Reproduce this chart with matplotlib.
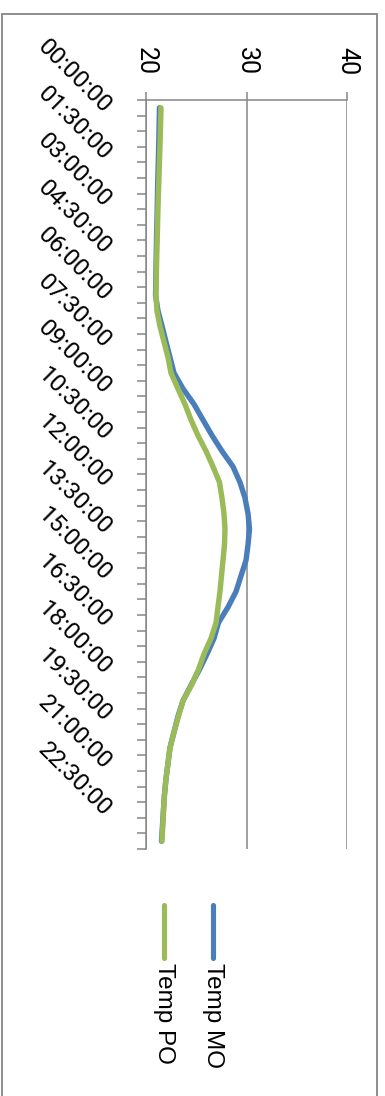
import numpy as np
import matplotlib.pyplot as plt
from matplotlib.lines import Line2D
from matplotlib.patches import Rectangle
from matplotlib.transforms import blended_transform_factory

# half-hourly readings, 00:00 .. 23:30
times = ['%02d:%02d:00' % (h, m) for h in range(24) for m in (0, 30)]

temp_mo = [21.34, 21.31, 21.28, 21.24, 21.20, 21.16, 21.13, 21.10, 21.06, 21.03,
           21.00, 20.98, 20.95, 21.19, 21.60, 21.99, 22.39, 22.79, 23.68, 24.78,
           25.67, 26.57, 27.56, 28.66, 29.35, 29.85, 30.15, 30.30, 30.15, 29.95,
           29.45, 28.96, 28.16, 27.21, 26.77, 26.07, 25.32, 24.48, 23.68, 23.18,
           22.79, 22.39, 22.19, 21.99, 21.84, 21.74, 21.64, 21.54]

temp_po = [21.49, 21.45, 21.41, 21.36, 21.31, 21.26, 21.21, 21.17, 21.13, 21.09,
           21.05, 21.02, 20.99, 21.09, 21.39, 21.79, 22.19, 22.49, 23.18, 23.88,
           24.48, 25.17, 25.97, 26.67, 27.31, 27.56, 27.76, 27.86, 27.81, 27.66,
           27.51, 27.36, 27.16, 26.97, 26.47, 25.77, 25.22, 24.53, 23.68, 23.23,
           22.79, 22.39, 22.19, 21.99, 21.84, 21.74, 21.67, 21.59]

series_names = ['Temp MO', 'Temp PO']
series_colors = ['#4A7EBB', '#9BBB59']

W, H = 385, 1096
grey = '#868686'

fig = plt.figure(figsize=(W / 100, H / 100), dpi=100)
fig.patch.set_facecolor('white')

# chart area frame
fig.add_artist(Rectangle((1.5 / W, -0.05), 375.5 / W, 1.05 - 13.5 / H,
                         transform=fig.transFigure, fill=False,
                         edgecolor=grey, linewidth=1.3))

ax = fig.add_axes([146 / W, 1 - 849 / H, 201 / W, 749 / H])

n = len(times)
pos = np.arange(n)
ax.plot(temp_mo, pos, color=series_colors[0], lw=3.9,
        solid_joinstyle='round', solid_capstyle='round', zorder=3)
ax.plot(temp_po, pos, color=series_colors[1], lw=3.9,
        solid_joinstyle='round', solid_capstyle='round', zorder=4)

ax.set_xlim(20, 40)
ax.set_ylim(n - 0.5, -0.5)

for side in ['right', 'bottom']:
    ax.spines[side].set_visible(False)
for side in ['left', 'top']:
    ax.spines[side].set_color(grey)
    ax.spines[side].set_linewidth(1.1)

ax.xaxis.tick_top()
ax.set_xticks([20, 30, 40])
ax.set_xticklabels(['20', '30', '40'], rotation=-90,
                   fontfamily='Roboto', fontsize=18)
ax.tick_params(axis='x', length=6, width=1.1, color=grey, pad=12)
ax.grid(axis='x', color=grey, linewidth=1.1)

ax.set_yticks(np.arange(n + 1) - 0.5)
ax.set_yticklabels([])
ax.tick_params(axis='y', length=6.5, width=1.1, color=grey)

# every third time stamp, slanted
tr = blended_transform_factory(ax.transAxes, ax.transData)
for i in range(0, n, 3):
    ax.text(-0.19, i + 0.15, times[i], transform=tr, rotation=-45,
            rotation_mode='anchor', ha='right', va='center',
            fontfamily='Roboto', fontsize=17.5)

# legend, drawn vertically
leg_x = [213, 164]
for name, col, lx in zip(series_names, series_colors, leg_x):
    fig.add_artist(Line2D([lx / W, lx / W], [1 - 905 / H, 1 - 958 / H],
                          transform=fig.transFigure, color=col, lw=3.7,
                          solid_capstyle='round'))
    fig.text(lx / W, 1 - 963 / H, name, rotation=-90, ha='center', va='top',
             fontfamily='Liberation Sans', fontsize=17.5)

fig.savefig('out.png', dpi=100, facecolor='white')
